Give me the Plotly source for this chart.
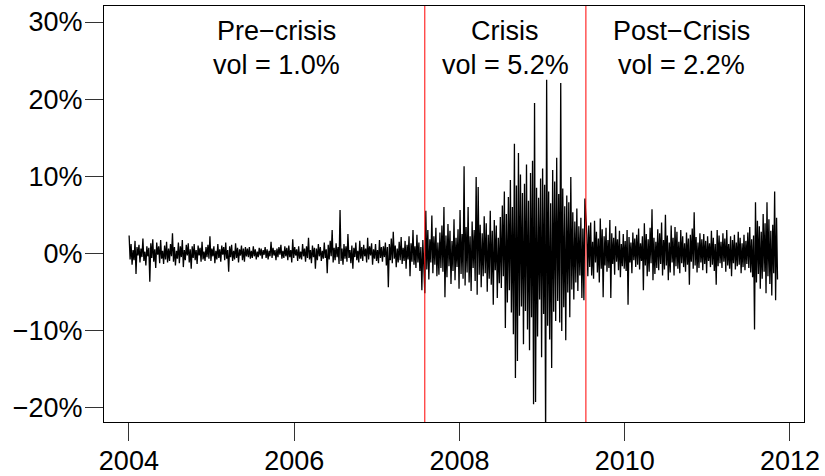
import pandas as pd
import plotly.graph_objects as go

# Daily-ish returns (%) for the three regimes
pre_crisis = [
    2.3, -0.8, 1.2, -1.5, 0.4, -0.9, 1.6, -2.7, 0.8, -0.3, 1.1, -1.2, 0.6, -0.5, 1.9, -1.0, 0.2, -1.6, 0.9, -0.4,
    0.7, -3.7, 1.3, -0.6, 1.8, -1.1, 0.5, -1.9, 1.4, -0.2, 0.9, -1.3, 1.7, -0.7, 0.3, -1.4, 1.0, -0.8, 1.5, -1.2,
    0.6, -1.0, 1.2, -0.4, 2.6, -1.1, 0.8, -1.6, 0.3, -0.7, 1.4, -1.3, 0.9, -0.5, 1.7, -1.8, 0.4, -0.9, 1.1, -0.3,
    1.3, -1.2, 0.5, -2.0, 0.9, -0.6, 1.2, -0.9, 0.4, -1.4, 1.0, -0.3, 0.7, -1.1, 1.5, -0.8, 0.2, -1.0, 0.8, -0.5,
    1.1, -0.7, 2.2, -1.0, 0.6, -0.4, 0.9, -1.3, 0.3, -0.8, 1.2, -0.6, 0.5, -1.1, 1.0, -0.2, 0.8, -0.9, 1.4, -0.7,
    0.4, -2.4, 0.9, -0.5, 1.1, -1.0, 0.3, -0.8, 1.3, -0.6, 0.7, -1.2, 0.5, -0.3, 1.0, -0.9, 0.6, -1.1, 0.8, -0.4,
    0.6, -0.5, 0.8, -0.7, 0.3, -0.6, 0.9, -0.4, 0.5, -0.8, 0.2, -0.5, 0.7, -0.3, 0.6, -0.7, 0.4, -0.2, 0.8, -0.6,
    0.5, -0.8, 0.3, -0.4, 1.5, -0.6, 0.7, -0.3, 0.4, -0.9, 0.6, -0.5, 0.8, -0.2, 1.1, -0.7, 0.3, -0.6, 0.9, -0.4,
    0.7, -0.9, 1.0, -0.5, 0.4, -1.2, 1.8, -0.6, 0.8, -0.3, 0.5, -1.0, 0.9, -0.7, 0.2, -0.8, 1.2, -0.4, 0.6, -1.1,
    0.9, -0.6, 2.0, -0.8, 0.4, -1.3, 1.0, -0.5, 0.7, -2.0, 0.6, -0.9, 1.2, -0.4, 0.8, -1.0, 0.3, -0.7, 1.4, -0.6,
    0.5, -2.6, 1.1, -0.8, 1.6, -0.4, 3.0, -1.2, 0.7, -0.9, 1.3, -0.5, 0.8, -1.4, 5.6, -1.0, 0.6, -1.5, 1.2, -0.7,
    0.9, -1.1, 2.5, -0.6, 0.4, -1.3, 1.0, -2.0, 0.7, -0.5, 1.4, -0.9, 0.3, -1.2, 1.6, -0.7, 0.8, -1.0, 1.1, -0.4,
    0.6, -1.2, 2.0, -0.8, 0.9, -0.3, 1.3, -1.5, 0.5, -0.7, 1.2, -1.0, 0.4, -1.3, 1.7, -0.6, 0.8, -1.1, 0.9, -0.5,
    1.4, -1.6, 0.8, -4.4, 1.2, -0.9, 1.9, -1.3, 2.8, -0.7, 1.0, -1.8, 0.6, -1.2, 1.5, -0.9, 2.1, -1.4, 0.7, -1.0,
    1.6, -2.0, 1.1, -0.8, 2.2, -3.0, 1.3, -1.1, 3.0, -1.5, 0.9, -1.9, 2.4, -1.2, 1.4, -2.3, 0.8, -4.8, 1.7, -1.3,
]

crisis = [
    -5.2, 5.5, -2.1, 3.0, -3.4, 1.8, -1.2, 4.9, -2.6, 2.2, -1.5, 3.3, -3.0, 1.4, -2.8, 2.7, -1.9, 3.6, -2.4, 6.0,
    -5.7, 2.3, -3.1, 3.8, -1.7, 2.9, -4.0, 1.6, -2.3, 4.4, -3.5, 2.0, -1.8, 3.1, -4.6, 5.6, -2.7, 2.5, -3.3, 11.3,
    -4.2, 3.4, -2.5, 6.0, -3.8, 2.2, -4.9, 4.1, -1.9, 3.0, -3.6, 9.9, -5.4, 8.6, -2.8, 3.7, -4.4, 2.6, -3.0, 4.8,
    -2.6, 3.9, -5.0, 2.4, -3.3, 5.5, -4.1, 2.9, -6.7, 4.3, -2.2, 3.6, -5.8, 2.0, -3.9, 4.7, -4.5, 6.2, -3.0, 8.0,
    -9.7, 5.1, -6.4, 7.3, -4.8, 9.5, -7.7, 6.0, -10.5, 14.2, -16.2, 8.8, -14.0, 13.0, -8.1, 10.2, -6.9, 7.8, -11.8, 9.0,
    -7.5, 11.5, -9.9, 6.8, -12.6, 10.4, -8.3, 12.0, -19.6, 19.5, -19.3, 8.5, -10.8, 7.2, -6.0, 9.7, -13.5, 11.0, -7.9, 8.9,
    -24.0, 22.5, -9.4, 8.0, -11.2, 6.5, -14.9, 10.8, -7.6, 9.3, -8.8, 12.4, -6.2, 7.7, -9.0, 22.1, -10.1, 8.4, -7.0, 6.1,
    -11.3, 7.5, -5.1, 6.6, -8.3, 9.9, -4.7, 5.3, -6.0, 4.1, -3.8, 5.8, -4.9, 3.5, -2.9, 4.6, -5.8, 3.2, -6.1, 7.1,
]

post_crisis = [
    2.4, -3.0, 3.6, -1.8, 4.0, -2.9, 1.5, -3.3, 4.2, -1.2, 2.8, -2.5, 1.9, -3.8, 4.5, -2.0, 3.1, -5.7, 2.2, -1.6,
    3.3, -2.4, 1.7, -1.9, 4.3, -5.8, 2.6, -1.4, 2.0, -2.8, 3.5, -1.1, 1.8, -2.2, 2.9, -3.1, 1.2, -1.7, 2.5, -2.0,
    1.6, -2.3, 3.0, -6.7, 2.1, -1.2, 1.4, -2.6, 2.7, -0.9, 1.9, -1.8, 2.4, -1.5, 3.2, -2.1, 1.3, -1.0, 2.2, -4.8,
    3.9, -1.6, 2.5, -3.0, 1.8, -2.4, 3.3, -1.3, 5.7, -3.5, 2.0, -2.7, 1.5, -1.9, 3.1, -2.2, 2.6, -1.4, 4.0, -2.9,
    1.7, -2.1, 5.0, -1.6, 2.3, -3.5, 1.4, -2.5, 3.6, -1.2, 2.0, -2.9, 3.4, -1.7, 2.8, -2.0, 1.5, -2.6, 3.0, -1.3,
    2.2, -1.8, 1.3, -2.4, 2.7, -1.5, 1.9, -4.1, 2.4, -1.1, 3.2, -2.0, 5.3, -1.6, 2.1, -2.5, 1.4, -1.9, 2.6, -1.2,
    1.8, -2.2, 2.5, -1.4, 1.6, -2.6, 2.2, -1.0, 1.3, -1.8, 2.9, -1.5, 2.0, -2.3, 1.2, -4.1, 3.0, -1.7, 2.3, -1.3,
    1.5, -1.9, 2.6, -1.1, 1.9, -2.4, 3.0, -1.6, 1.2, -2.0, 2.2, -3.0, 1.7, -1.3, 2.4, -2.1, 1.4, -1.7, 2.8, -1.5,
    2.0, -2.6, 1.3, -1.8, 2.4, -2.2, 1.6, -1.4, 2.7, -1.9, 3.4, -2.5, 1.8, -3.1, 2.3, -9.9, 6.6, -3.8, 4.2, -2.7,
    3.5, -4.6, 2.8, -3.3, 5.1, -2.4, 3.9, -5.2, 6.6, -3.0, 4.4, -4.0, 2.9, -5.5, 3.7, -2.6, 8.0, -6.1, 4.6, -3.4,
]

# Regime boundaries (start of each period, end of sample)
period_bounds = ["2004-01-02", "2007-08-01", "2009-07-13", "2011-11-07"]
period_names = ["Pre\u2212crisis", "Crisis", "Post\u2212Crisis"]
period_vols = ["vol = 1.0%", "vol = 5.2%", "vol = 2.2%"]

y_ticks = [-20, -10, 0, 10, 20, 30]
y_labels = ["\u221220%", "\u221210%", "0%", "10%", "20%", "30%"]
x_ticks = ["2004-01-01", "2006-01-01", "2008-01-01", "2010-01-01", "2012-01-01"]
x_labels = ["2004", "2006", "2008", "2010", "2012"]

# Spread each regime's observations evenly over its own date span
dates, rets = [], []
for i, vals in enumerate([pre_crisis, crisis, post_crisis]):
    rng = pd.date_range(period_bounds[i], period_bounds[i + 1], periods=len(vals) + 1)
    if i < 2:
        rng = rng[:-1]
    else:
        rng = rng[1:]
    dates.extend(rng)
    rets.extend(vals)

FONT = "Liberation Sans, Arial, Helvetica, sans-serif"
fig = go.Figure()
fig.add_trace(go.Scatter(x=dates, y=rets, mode="lines",
                         line=dict(color="black", width=1.3), hoverinfo="skip"))

# Regime break lines
for b in period_bounds[1:3]:
    fig.add_shape(type="line", xref="x", yref="paper", x0=b, x1=b, y0=0, y1=1,
                  line=dict(color="red", width=1), layer="above")

# Period labels centred on each regime
bounds_ts = pd.to_datetime(period_bounds)
for i in range(3):
    mid = bounds_ts[i] + (bounds_ts[i + 1] - bounds_ts[i]) / 2
    fig.add_annotation(x=mid, y=28.8, xref="x", yref="y", text=period_names[i],
                       showarrow=False, yanchor="middle", xanchor="center",
                       font=dict(size=27, color="black", family=FONT))
    fig.add_annotation(x=mid, y=24.4, xref="x", yref="y", text=period_vols[i],
                       showarrow=False, yanchor="middle", xanchor="center",
                       font=dict(size=27, color="black", family=FONT))

fig.update_layout(
    width=825, height=476,
    margin=dict(l=104, r=21, t=6, b=54),
    paper_bgcolor="white", plot_bgcolor="white",
    showlegend=False,
    font=dict(family=FONT, size=27, color="black"),
)
fig.update_xaxes(
    type="date", range=["2003-09-13", "2012-03-03"],
    tickmode="array", tickvals=x_ticks, ticktext=x_labels,
    ticks="outside", ticklen=18, tickcolor="#333", tickwidth=1,
    ticklabelstandoff=-3, automargin=False,
    showline=True, linecolor="black", linewidth=1, mirror=True,
    showgrid=False, zeroline=False,
    tickfont=dict(size=27, family=FONT, color="black"),
)
fig.update_yaxes(
    range=[-21.9, 32.08],
    tickmode="array", tickvals=y_ticks, ticktext=y_labels,
    ticks="outside", ticklen=18, tickcolor="#333", tickwidth=1,
    ticklabelstandoff=-3, automargin=False,
    showline=True, linecolor="black", linewidth=1, mirror=True,
    showgrid=False, zeroline=False,
    tickfont=dict(size=27, family=FONT, color="black"),
)

fig.write_html("out.html")
